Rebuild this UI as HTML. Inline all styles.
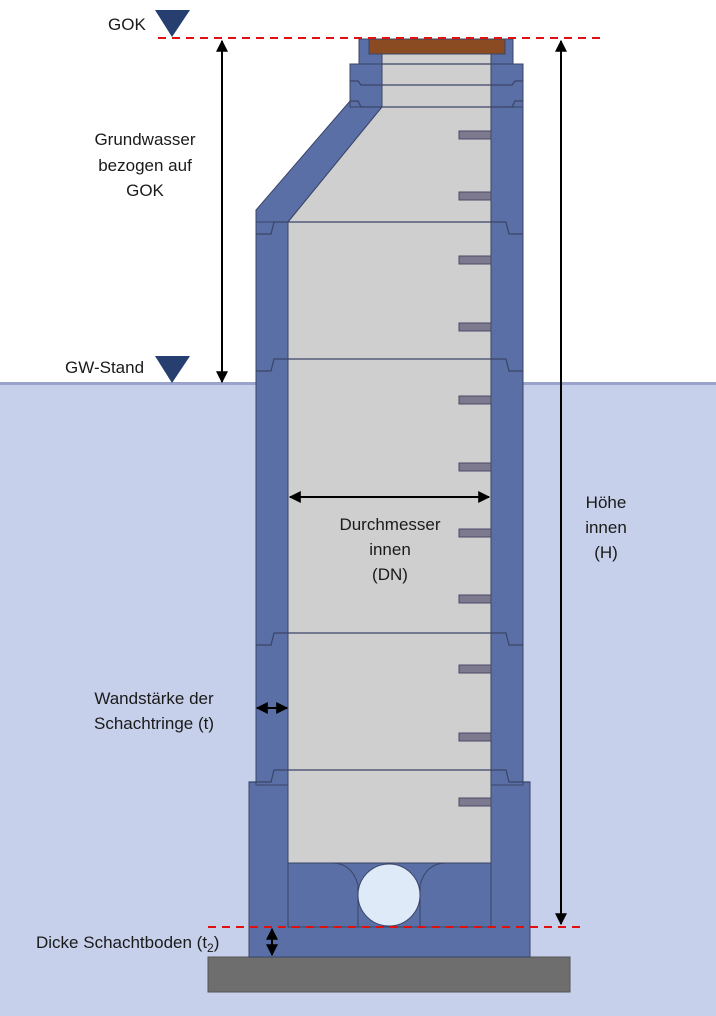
<!DOCTYPE html>
<html><head><meta charset="utf-8"><style>
html,body{margin:0;padding:0;background:#fff}
svg{display:block}
text{font-family:"Liberation Sans",sans-serif;font-size:17px;fill:#1a1a1a}
</style></head><body>
<svg width="716" height="1016" viewBox="0 0 716 1016" xmlns="http://www.w3.org/2000/svg">
<defs>
<marker id="a" viewBox="0 0 10 10" refX="9" refY="5" markerWidth="6" markerHeight="6" orient="auto-start-reverse"><path d="M0,0L10,5L0,10z" fill="#000"/></marker>
</defs>
<rect x="0" y="383" width="716" height="633" fill="#c6d0ea"/>
<rect x="0" y="382" width="716" height="3" fill="#9aa3c9"/>
<g stroke="#3a4466" stroke-width="1">
<rect x="208" y="957" width="362" height="35" fill="#6e6e6e" stroke="#555"/>
<rect x="249" y="782" width="281" height="175" fill="#5a6fa6"/>
<rect x="256" y="210" width="32" height="575" fill="#5a6fa6"/>
<rect x="491" y="101" width="32" height="684" fill="#5a6fa6"/>
<polygon points="350,101 382,107 288,222 256,222 256,210" fill="#5a6fa6"/>
<rect x="350" y="64" width="173" height="43" fill="#5a6fa6"/>
<rect x="359" y="39" width="154" height="25" fill="#5a6fa6"/>
<polygon points="382,54 491,54 491,863 288,863 288,222 382,107" fill="#cfcfcf"/>
<rect x="369" y="39" width="136" height="15" fill="#8a4a22"/>
<path d="M288,863 L332,863 Q352,863 358,885 L358,927 L420,927 L420,885 Q426,863 446,863 L491,863 L491,927 L288,927 Z" fill="#5a6fa6"/>
<circle cx="389" cy="895" r="31" fill="#deeaf8"/>
</g>
<g stroke="#3a4466" stroke-width="1.2" fill="none">
<line x1="382" y1="64" x2="491" y2="64"/>
<line x1="382" y1="85" x2="491" y2="85"/>
<line x1="382" y1="107" x2="491" y2="107"/>
<path d="M350,81 L358,81 L361,85 L382,85"/>
<path d="M491,85 L512,85 L515,81 L523,81"/>
<path d="M350,101 L358,101 L361,107 L382,107"/>
<path d="M491,107 L512,107 L515,101 L523,101"/>
<path d="M256,234 L271,234 L274,222 L491,222 L506,222 L509,234 L523,234"/>
<path d="M256,371 L271,371 L274,359 L491,359 L506,359 L509,371 L523,371"/>
<path d="M256,645 L271,645 L274,633 L491,633 L506,633 L509,645 L523,645"/>
<path d="M249,782 L271,782 L274,770 L491,770 L506,770 L509,782 L530,782"/>
</g>
<g fill="#7d7a90" stroke="#4a4a66" stroke-width="1">
<rect x="459" y="131" width="32" height="8"/><rect x="459" y="192" width="32" height="8"/>
<rect x="459" y="256" width="32" height="8"/><rect x="459" y="323" width="32" height="8"/>
<rect x="459" y="396" width="32" height="8"/><rect x="459" y="463" width="32" height="8"/>
<rect x="459" y="529" width="32" height="8"/><rect x="459" y="595" width="32" height="8"/>
<rect x="459" y="665" width="32" height="8"/><rect x="459" y="733" width="32" height="8"/>
<rect x="459" y="798" width="32" height="8"/>
</g>
<g stroke="#e01010" stroke-width="2" stroke-dasharray="8,6">
<line x1="158" y1="38" x2="602" y2="38"/>
<line x1="208" y1="927" x2="580" y2="927"/>
</g>
<polygon points="155,10 190,10 172,37" fill="#263f70"/>
<polygon points="155,356 190,356 172,383" fill="#263f70"/>
<g stroke="#000" stroke-width="2" marker-start="url(#a)" marker-end="url(#a)">
<line x1="222" y1="41" x2="222" y2="382"/>
<line x1="561" y1="41" x2="561" y2="924"/>
<line x1="290" y1="497" x2="489" y2="497"/>
<line x1="257" y1="708" x2="287" y2="708"/>
<line x1="272" y1="929" x2="272" y2="955"/>
</g>
<text x="108" y="30">GOK</text>
<text x="145" y="145" text-anchor="middle">Grundwasser</text>
<text x="145" y="171" text-anchor="middle">bezogen auf</text>
<text x="145" y="196" text-anchor="middle">GOK</text>
<text x="65" y="373">GW-Stand</text>
<text x="390" y="530" text-anchor="middle">Durchmesser</text>
<text x="390" y="555" text-anchor="middle">innen</text>
<text x="390" y="580" text-anchor="middle">(DN)</text>
<text x="606" y="508" text-anchor="middle">Höhe</text>
<text x="606" y="533" text-anchor="middle">innen</text>
<text x="606" y="558" text-anchor="middle">(H)</text>
<text x="154" y="704" text-anchor="middle">Wandstärke der</text>
<text x="154" y="729" text-anchor="middle">Schachtringe (t)</text>
<text x="36" y="948">Dicke Schachtboden (t<tspan font-size="12" dy="4">2</tspan><tspan dy="-4">)</tspan></text>
</svg>
</body></html>
